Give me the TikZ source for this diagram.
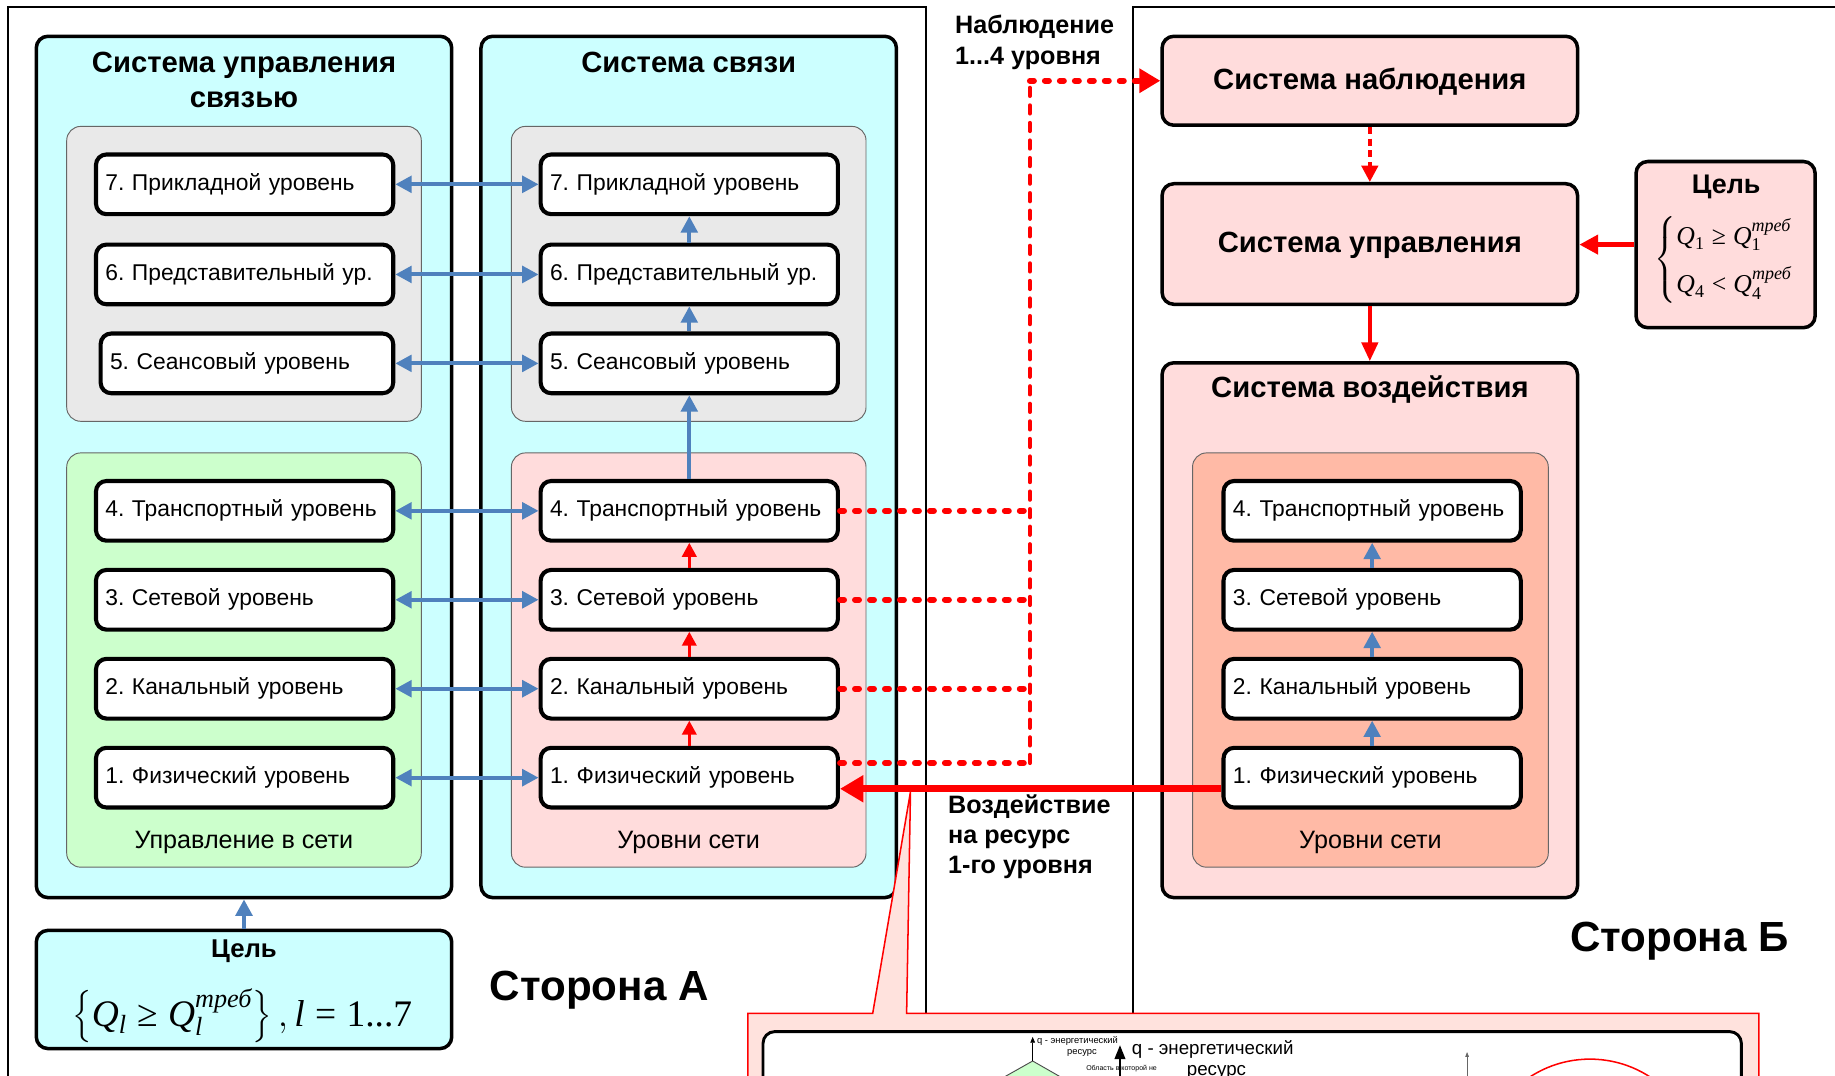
\RequirePackage{fix-cm}
\documentclass[tikz,border=0pt]{standalone}
\usepackage{amsmath}
\usepackage{fontspec}
\setmainfont{Liberation Sans}
\newfontfamily\timesf{Liberation Serif}
\usetikzlibrary{arrows.meta}
\frenchspacing
\definecolor{cyanf}{HTML}{CCFFFF}
\definecolor{grayf}{HTML}{E9E9E9}
\definecolor{greenf}{HTML}{CCFFCC}
\definecolor{pinkf}{HTML}{FFDCDC}
\definecolor{salmonf}{HTML}{FFBAA6}
\definecolor{calloutf}{HTML}{FFE2DD}
\definecolor{bluef}{HTML}{4F81BD}
\newcommand\ti[1]{\text{\timesf\itshape #1}}
\newcommand\tr[1]{\text{\timesf #1}}
\newcommand\trel[1]{\mathrel{\text{\timesf #1}}}
\tikzset{
  lvl/.style={draw, line width=3.5pt, rounded corners=9pt, fill=white, minimum height=51pt,
    text width=238pt, inner xsep=8pt, inner ysep=0pt, align=left, font=\fontsize{19.5}{22}\selectfont},
  cont/.style={draw, line width=3pt, rounded corners=10pt, inner sep=0pt},
  grp/.style={draw=black!60, line width=0.8pt, rounded corners=12pt, inner sep=0pt},
  ttl/.style={align=center, font=\bfseries\fontsize{25}{30}\selectfont},
  lbl/.style={font=\fontsize{21.5}{24}\selectfont, inner sep=0pt},
  side/.style={font=\bfseries\fontsize{36}{40}\selectfont},
  note/.style={align=left, font=\bfseries\fontsize{21.5}{25.8}\selectfont, inner sep=0pt},
  goal/.style={font=\bfseries\fontsize{22}{26}\selectfont, inner sep=0pt},
  barrow/.style={draw=bluef, line width=3.5pt},
  rarrow/.style={draw=red, line width=3pt, -{Triangle[length=12pt,width=12pt]}},
  reddot/.style={draw=red, line width=5pt, dash pattern=on 3.5pt off 9.3pt, line cap=round},
  reddash/.style={draw=red, line width=3.5pt, dash pattern=on 7pt off 8pt, line cap=round},
}
\begin{document}
\begin{tikzpicture}[x=1pt,y=-1pt, >={Triangle[length=14pt,width=14pt]}]
\useasboundingbox (0,0) rectangle (1568,919);
\fill[white] (0,0) rectangle (1568,919);
% frames
\draw[line width=1.5pt] (7,930) -- (7,6) -- (791,6) -- (791,870);
\draw[line width=1.5pt] (968,870) -- (968,6) -- (1580,6);

% ---- side A containers
\node[cont, fill=cyanf, minimum width=355pt, minimum height=736pt] (CU) at (208.5,399) {};
\node[cont, fill=cyanf, minimum width=355pt, minimum height=736pt] (CS) at (588.5,399) {};
\node[grp, fill=grayf, minimum width=303pt, minimum height=252pt] (G1) at (208.5,234) {};
\node[grp, fill=grayf, minimum width=303pt, minimum height=252pt] (G2) at (588.5,234) {};
\node[grp, fill=greenf, minimum width=303pt, minimum height=354pt] (GR) at (208.5,564) {};
\node[grp, fill=pinkf, minimum width=303pt, minimum height=354pt] (PK) at (588.5,564) {};
\node[ttl] (tCU) at (208.5,68) {Система управления\\связью};
\node[ttl] (tCS) at (588.5,53) {Система связи};
\node[lbl] (lGR) at (208.5,720) {Управление в сети};
\node[lbl] (lPK) at (588.5,720) {Уровни сети};

\foreach \n/\y/\t in {7/157.5/{7. Прикладной уровень},6/234.5/{6. Представительный ур.},4/436.5/{4. Транспортный уровень},3/512.5/{3. Сетевой уровень},2/588.5/{2. Канальный уровень},1/664.5/{1. Физический уровень}}{
  \node[lvl] (L\n) at (209,\y) {\t};
}
\node[lvl, text width=234pt] (L5) at (211,310.5) {5. Сеансовый уровень};
\foreach \n/\y/\t in {7/157.5/{7. Прикладной уровень},6/234.5/{6. Представительный ур.},5/310.5/{5. Сеансовый уровень},4/436.5/{4. Транспортный уровень},3/512.5/{3. Сетевой уровень},2/588.5/{2. Канальный уровень},1/664.5/{1. Физический уровень}}{
  \node[lvl] (R\n) at (589,\y) {\t};
  \draw[barrow,<->] (L\n) -- (R\n);
}
\draw[barrow,->] (R6) -- (R7);
\draw[barrow,->] (R5) -- (R6);
\draw[barrow,->] (R4) -- (R5);
\draw[rarrow] (R1) -- (R2);
\draw[rarrow] (R2) -- (R3);
\draw[rarrow] (R3) -- (R4);

% goal A
\node[cont, fill=cyanf, minimum width=355pt, minimum height=101pt] (GA) at (208.5,845.5) {};
\draw[barrow,->] (GA) -- (CU);
\node[goal] (tGA) at (208.5,813) {Цель};
\node[font=\fontsize{32}{36}\selectfont, inner sep=0pt] (fGA) at (207,868)
  {$\left\{\ti{Q}_{\ti{l}} \trel{≥} \ti{Q}_{\ti{l}}^{\ti{треб}}\right\}, \ti{l} \trel{=} \tr{1...7}$};
\node[side] (sA) at (512,846) {Сторона А};

% ---- side B
\node[cont, fill=pinkf, minimum width=355pt, minimum height=76pt] (SN) at (1170.5,69) {};
\node[ttl] (tSN) at (1170.5,70) {Система наблюдения};
\node[cont, fill=pinkf, minimum width=355pt, minimum height=103pt] (SU) at (1170.5,208.5) {};
\node[ttl] (tSU) at (1170.5,209.5) {Система управления};
\node[cont, fill=pinkf, minimum width=355pt, minimum height=457pt] (SV) at (1170.5,538.5) {};
\node[ttl] (tSV) at (1170.5,333) {Система воздействия};
\node[grp, fill=salmonf, minimum width=304pt, minimum height=354pt] (SL) at (1171,564) {};
\node[lbl] (lSL) at (1171,720) {Уровни сети};
\foreach \n/\y/\t in {4/436.5/{4. Транспортный уровень},3/512.5/{3. Сетевой уровень},2/588.5/{2. Канальный уровень},1/664.5/{1. Физический уровень}}{
  \node[lvl] (B\n) at (1172.5,\y) {\t};
}
\draw[barrow,->] (B1) -- (B2);
\draw[barrow,->] (B2) -- (B3);
\draw[barrow,->] (B3) -- (B4);

\node[cont, fill=pinkf, minimum width=153pt, minimum height=142pt] (GB) at (1474.5,209) {};
\node[goal, font=\bfseries\fontsize{23}{26}\selectfont] (tGB) at (1475,160) {Цель};
\node[font=\fontsize{22}{25}\selectfont, inner sep=0pt] (fGB) at (1473,222)
  {$\left\{\begin{array}{@{}l@{}} \ti{Q}_{\tr{1}} \trel{≥} \ti{Q}_{\tr{1}}^{\ti{треб}} \\[12pt] \ti{Q}_{\tr{4}} \trel{<} \ti{Q}_{\tr{4}}^{\ti{треб}} \end{array}\right.$};
\node[side] (sB) at (1435,804) {Сторона Б};

\draw[draw=red, line width=3pt, dash pattern=on 6pt off 4pt, -{Triangle[length=14pt,width=14pt]}] (SN) -- (SU);
\draw[draw=red, line width=3pt, -{Triangle[length=16pt,width=14pt]}] (SU) -- (SV);
\draw[draw=red, line width=4pt, -{Triangle[length=16pt,width=16pt]}] (GB.west) -- (GB.west -| SU.east);

% dotted observation lines
\coordinate (vx) at (880,69);
\coordinate (vb) at (880,652);
\draw[reddot] (R4.east) -- (R4.east -| vx);
\draw[reddot] (R3.east) -- (R3.east -| vx);
\draw[reddot] (R2.east) -- (R2.east -| vx);
\draw[reddot] ([yshift=12.5pt]R1.east) -- (vb);
\draw[reddash] (vb) -- (vx);
\draw[reddot, -{Triangle[length=18pt,width=20pt]}] (vx) -- (SN.west);
\node[note, anchor=north west] (nObs) at (816,13) {Наблюдение\\1...4 уровня};
\node[note, anchor=north west] (nAct) at (810,679) {Воздействие\\на ресурс\\1-го уровня};

% callout
\coordinate (tip) at (778,676.5);
\filldraw[fill=calloutf, draw=red, line width=1.3pt] (639,935) -- (639,866) -- (745.7,866) -- (tip) -- (774.7,866) -- (1503,866) -- (1503,935);
\draw[line width=2.5pt, rounded corners=10pt, fill=white] (652,945) -- (652,881.5) -- (1488,881.5) -- (1488,945);
\begin{scope}
\clip (653.5,883) rectangle (1486.5,919);
\filldraw[fill=greenf, draw=black!70, line width=0.8pt] (882.4,906.6) -- (832,935) -- (932,935) -- cycle;
\draw[line width=0.8pt, -{Triangle[length=5pt,width=4pt]}] (882.4,906.6) -- (882.4,886);
\node[font=\fontsize{8}{9}\selectfont, anchor=west, inner sep=0pt] (q1) at (886,889.5) {q - энергетический};
\node[font=\fontsize{8}{9}\selectfont, inner sep=0pt] (q2) at (924.5,899.5) {ресурс};
\node[font=\fontsize{6}{7}\selectfont, anchor=west, inner sep=0pt] (q3) at (928,913.5) {Область в которой не};
\draw[line width=2pt, -{Triangle[length=12pt,width=9pt]}] (957,935) -- (957,893);
\node[font=\fontsize{16}{18}\selectfont, anchor=west, inner sep=0pt] (q4) at (967,897) {q - энергетический};
\node[font=\fontsize{16}{18}\selectfont, anchor=west, inner sep=0pt] (q5) at (1014,916) {ресурс};
\draw[black!60, line width=0.5pt, -{Triangle[length=4pt,width=3pt]}] (1253.6,935) -- (1253.6,899);
\draw[red, line width=1.3pt] (1358.6,999) circle (94);
\end{scope}

\draw[draw=red, line width=6pt, -{Triangle[length=20pt,width=22pt]}] ([yshift=-9.5pt]B1.west) -- ([yshift=-9.5pt]B1.west -| R1.east);
\end{tikzpicture}
\end{document}
